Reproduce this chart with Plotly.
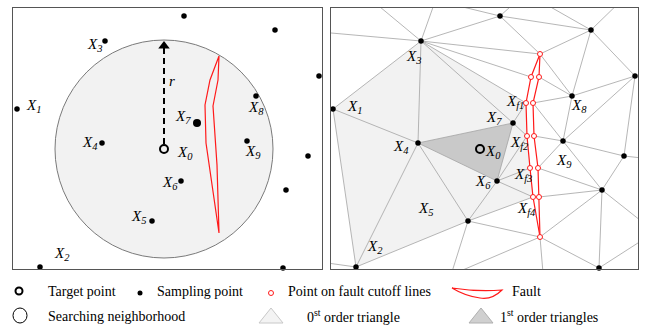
import plotly.graph_objects as go

# ---------------------------------------------------------------
# Point data (shared by both panels; units are pixels, y grows down)
# ---------------------------------------------------------------
sample_names = ["X1", "X2", "X3", "X4", "X5", "X6", "X7", "X8", "X9",
                "A", "B", "C", "D", "E", "F"]
sample_x = [17, 40, 105, 102, 152, 181, 197, 256, 247, 184, 275, 319, 308, 286, 283]
sample_y = [109, 267, 41, 143, 221, 181, 123, 96, 141, 16, 30, 76, 156, 190, 268]

target_x = [164]
target_y = [149]
search_radius = 109

# fault outline used in the neighbourhood panel
fault_poly_x = [219, 210, 205, 206, 219, 217, 213, 218, 219]
fault_poly_y = [56, 80, 105, 143, 233, 165, 106, 80, 56]

# points where the fault cuts the triangulation (left and right traces)
cut_names_left = ["L1", "L2", "L3", "L4", "L5"]
cut_left_x = [215, 210, 211, 214, 217]
cut_left_y = [77, 103, 136, 168, 197]
cut_names_right = ["R1", "R2", "R3", "R4", "R5"]
cut_right_x = [223, 217, 218, 222, 223]
cut_right_y = [77, 103, 136, 168, 197]
cut_end_names = ["FT", "FB"]
cut_end_x = [224, 224]
cut_end_y = [54, 237]

# neighbours that lie outside the frame
ghost_names = ["g1", "g2", "g3", "g4", "g5", "g6", "g7", "g8", "g9", "g10", "g11", "g12"]
ghost_x = [52, 121, 4, 114, 204, 224, 309, 344, 339, 135, 228, 4]
ghost_y = [-3, -4, 32, -1, -2, 1, -3, 160, 232, 275, 285, 262]

# triangulation edges
edges = [
    ("X3", "g1"), ("X3", "g2"), ("X3", "g3"), ("X3", "A"), ("X3", "FT"),
    ("X3", "L1"), ("X3", "L2"), ("X3", "X7"), ("X3", "X4"), ("X3", "X1"),
    ("A", "g4"), ("A", "g5"), ("A", "B"), ("A", "FT"),
    ("B", "g6"), ("B", "g7"), ("B", "FT"), ("B", "X8"), ("B", "C"),
    ("X1", "X4"), ("X1", "X2"),
    ("X4", "X7"), ("X4", "X6"), ("X4", "X5"), ("X4", "X2"),
    ("X7", "X6"), ("X7", "L2"), ("X7", "L3"),
    ("X6", "L3"), ("X6", "L4"), ("X6", "L5"), ("X6", "X5"),
    ("X5", "L5"), ("X5", "FB"), ("X5", "X2"), ("X5", "g10"),
    ("X2", "g12"),
    ("FB", "g10"), ("FB", "g11"), ("FB", "F"), ("FB", "E"),
    ("FT", "X8"), ("R1", "X8"), ("R2", "X8"), ("R2", "X9"), ("R3", "X9"),
    ("R4", "X9"), ("R4", "E"), ("R5", "E"),
    ("X8", "X9"), ("X8", "C"), ("X9", "C"), ("X9", "D"), ("X9", "E"),
    ("C", "D"), ("D", "E"), ("D", "g8"), ("E", "F"), ("E", "g9"), ("F", "g9"),
]

# triangles around the target
zero_order_ring = ["X1", "X3", "L2", "L3", "L4", "L5", "X5", "X2"]
first_order_tri = ["X4", "X7", "X6"]

# label placement (neighbourhood panel / triangulation panel)
left_labels = {"X1": (33, 106), "X2": (62, 254), "X3": (94, 45), "X4": (90, 143),
               "X5": (138, 217), "X6": (170, 183), "X7": (183, 117), "X8": (256, 108),
               "X9": (253, 152), "X0": (185, 153)}
right_labels = {"X1": (38, 107), "X2": (59, 247), "X3": (97, 57), "X4": (85, 147),
                "X5": (109, 209), "X6": (167, 182), "X7": (178, 118), "X8": (263, 106),
                "X9": (248, 161), "X0": (177, 152), "Xf1": (199, 102), "Xf2": (203, 143),
                "Xf3": (207, 175), "Xf4": (210, 209)}

legend_row1 = ["Target point", "Sampling point", "Point on fault cutoff lines", "Fault"]
legend_row2 = ["Searching neighborhood", "0<sup>st</sup> order triangle",
               "1<sup>st</sup> order triangles"]

# ---------------------------------------------------------------
pos = {}
for n, x, y in zip(sample_names, sample_x, sample_y):
    pos[n] = (x, y)
for n, x, y in zip(cut_names_left, cut_left_x, cut_left_y):
    pos[n] = (x, y)
for n, x, y in zip(cut_names_right, cut_right_x, cut_right_y):
    pos[n] = (x, y)
for n, x, y in zip(cut_end_names, cut_end_x, cut_end_y):
    pos[n] = (x, y)
for n, x, y in zip(ghost_names, ghost_x, ghost_y):
    pos[n] = (x, y)

SERIF = "Liberation Serif"
EDGE = "#a3a3a3"
RED = "#ff1a1a"


def dots(xs, ys, size, xa, ya):
    return go.Scatter(x=xs, y=ys, mode="markers", cliponaxis=False,
                      marker=dict(symbol="circle", color="#000000", size=size, opacity=1,
                                  line=dict(width=0)),
                      xaxis=xa, yaxis=ya, hoverinfo="skip")


fig = go.Figure()

# ---------------- left panel: searching neighbourhood ----------------
fig.add_shape(type="circle", xref="x", yref="y", layer="below",
              x0=target_x[0] - search_radius, x1=target_x[0] + search_radius,
              y0=target_y[0] - search_radius, y1=target_y[0] + search_radius,
              fillcolor="#f2f2f2", line=dict(color="#7a7a7a", width=1))

fig.add_trace(go.Scatter(x=fault_poly_x, y=fault_poly_y, mode="lines",
                         line=dict(color=RED, width=1.2), xaxis="x", yaxis="y",
                         hoverinfo="skip"))

# radius arrow
fig.add_trace(go.Scatter(x=[target_x[0], target_x[0]],
                         y=[target_y[0] - 5, target_y[0] - search_radius + 8],
                         mode="lines", line=dict(color="black", width=2, dash="6px,4px"),
                         xaxis="x", yaxis="y", hoverinfo="skip"))
fig.add_trace(go.Scatter(x=[target_x[0]], y=[target_y[0] - search_radius + 6],
                         mode="markers", marker=dict(symbol="triangle-up", size=10, color="black"),
                         xaxis="x", yaxis="y", hoverinfo="skip"))

small = [i for i, n in enumerate(sample_names) if n != "X7"]
big = [i for i, n in enumerate(sample_names) if n == "X7"]
fig.add_trace(dots([sample_x[i] for i in small], [sample_y[i] for i in small], 5.5, "x", "y"))
fig.add_trace(dots([sample_x[i] for i in big], [sample_y[i] for i in big], 8, "x", "y"))
fig.add_trace(go.Scatter(x=target_x, y=target_y, mode="markers",
                         marker=dict(symbol="circle-open", color="black", size=8,
                                     line=dict(width=2)),
                         xaxis="x", yaxis="y", hoverinfo="skip"))

# ---------------- right panel: triangulation ----------------
ring = zero_order_ring + [zero_order_ring[0]]
fig.add_trace(go.Scatter(x=[pos[n][0] for n in ring], y=[pos[n][1] for n in ring],
                         mode="lines", fill="toself", fillcolor="#f2f2f2",
                         line=dict(width=0, color="#f2f2f2"),
                         xaxis="x2", yaxis="y2", hoverinfo="skip"))
tri = first_order_tri + [first_order_tri[0]]
fig.add_trace(go.Scatter(x=[pos[n][0] for n in tri], y=[pos[n][1] for n in tri],
                         mode="lines", fill="toself", fillcolor="#c9c9c9",
                         line=dict(width=0, color="#c9c9c9"),
                         xaxis="x2", yaxis="y2", hoverinfo="skip"))

ex, ey = [], []
for a, b in edges:
    ex += [pos[a][0], pos[b][0], None]
    ey += [pos[a][1], pos[b][1], None]
fig.add_trace(go.Scatter(x=ex, y=ey, mode="lines", line=dict(color=EDGE, width=0.8),
                         xaxis="x2", yaxis="y2", hoverinfo="skip"))

fl_x = [cut_end_x[0]] + cut_left_x + [cut_end_x[1]]
fl_y = [cut_end_y[0]] + cut_left_y + [cut_end_y[1]]
fr_x = [cut_end_x[0]] + cut_right_x + [cut_end_x[1]]
fr_y = [cut_end_y[0]] + cut_right_y + [cut_end_y[1]]
for fx, fy in ((fl_x, fl_y), (fr_x, fr_y)):
    fig.add_trace(go.Scatter(x=fx, y=fy, mode="lines", line=dict(color=RED, width=1.2),
                             xaxis="x2", yaxis="y2", hoverinfo="skip"))
fig.add_trace(go.Scatter(x=cut_left_x + cut_right_x + cut_end_x,
                         y=cut_left_y + cut_right_y + cut_end_y, mode="markers",
                         marker=dict(symbol="circle", size=5, color="white",
                                     line=dict(color=RED, width=1)),
                         xaxis="x2", yaxis="y2", hoverinfo="skip"))

fig.add_trace(dots(sample_x, sample_y, 5.5, "x2", "y2"))
fig.add_trace(go.Scatter(x=target_x, y=target_y, mode="markers",
                         marker=dict(symbol="circle-open", color="black", size=8,
                                     line=dict(width=2)),
                         xaxis="x2", yaxis="y2", hoverinfo="skip"))


def point_label(name):
    if name.startswith("Xf"):
        return "<i>X<sub>f" + name[2:] + "</sub></i>"
    return "<i>X<sub>" + name[1:] + "</sub></i>"


annotations = []
for n, (x, y) in left_labels.items():
    annotations.append(dict(x=x, y=y, xref="x", yref="y", text=point_label(n),
                            showarrow=False, font=dict(family=SERIF, size=15, color="black")))
for n, (x, y) in right_labels.items():
    annotations.append(dict(x=x, y=y, xref="x2", yref="y2", text=point_label(n),
                            showarrow=False, font=dict(family=SERIF, size=15, color="black")))
annotations.append(dict(x=172, y=81, xref="x", yref="y", text="<i>r</i>", showarrow=False,
                        font=dict(family=SERIF, size=15, color="black")))

# ---------------- legend (figure pixel axes) ----------------
R1Y, R2Y = 291, 316
fig.add_trace(go.Scatter(x=[19], y=[R1Y], mode="markers",
                         marker=dict(symbol="circle-open", color="black", size=7, line=dict(width=2)),
                         xaxis="x3", yaxis="y3", hoverinfo="skip"))
fig.add_trace(dots([140], [R1Y + 2], 5, "x3", "y3"))
fig.add_trace(go.Scatter(x=[271], y=[R1Y + 2], mode="markers",
                         marker=dict(symbol="circle", size=5, color="white",
                                     line=dict(color=RED, width=1)),
                         xaxis="x3", yaxis="y3", hoverinfo="skip"))
fig.add_shape(type="path", xref="x3", yref="y3",
              path=f"M452,{R1Y-3} Q478,{R1Y+1} 502,{R1Y-1} Q492,{R1Y+9} 480,{R1Y+7} Q465,{R1Y+5} 452,{R1Y-3} Z",
              line=dict(color=RED, width=1.2))
# searching neighbourhood icon
fig.add_shape(type="circle", xref="x3", yref="y3", x0=13, x1=27, y0=R2Y - 8, y1=R2Y + 7,
              line=dict(color="black", width=1), fillcolor="white")
fig.add_trace(go.Scatter(x=[20, 20], y=[R2Y + 4, R2Y - 2], mode="lines",
                         line=dict(color="black", width=1.5),
                         xaxis="x3", yaxis="y3", hoverinfo="skip"))
fig.add_trace(go.Scatter(x=[20], y=[R2Y - 3], mode="markers",
                         marker=dict(symbol="triangle-up", size=7, color="black"),
                         xaxis="x3", yaxis="y3", hoverinfo="skip"))
fig.add_shape(type="path", xref="x3", yref="y3",
              path=f"M259,{R2Y+7} L271,{R2Y-8} L283,{R2Y+7} Z",
              line=dict(color="#c8c8c8", width=1), fillcolor="#f3f3f3")
fig.add_shape(type="path", xref="x3", yref="y3",
              path=f"M469,{R2Y+7} L481,{R2Y-8} L493,{R2Y+7} Z",
              line=dict(color="#b0b0b0", width=1), fillcolor="#d0d0d0")

leg_font = dict(family=SERIF, size=14, color="black")
for txt, x in zip(legend_row1, [46, 155, 286, 510]):
    annotations.append(dict(x=x, y=R1Y, xref="x3", yref="y3", text=txt, showarrow=False,
                            xanchor="left", font=leg_font))
for txt, x in zip(legend_row2, [46, 305, 498]):
    annotations.append(dict(x=x, y=R2Y, xref="x3", yref="y3", text=txt, showarrow=False,
                            xanchor="left", font=leg_font))

W, H = 645, 330
TOP, BOT = 8, 269
ydom = [(H - BOT) / H, (H - TOP) / H]
frame = dict(showgrid=False, zeroline=False, showticklabels=False, ticks="",
             showline=True, mirror=True, linecolor="#555555", linewidth=1, fixedrange=True)
hidden = dict(showgrid=False, zeroline=False, showticklabels=False, ticks="",
              showline=False, fixedrange=True)

fig.update_layout(
    width=W, height=H, margin=dict(l=0, r=0, t=0, b=0),
    paper_bgcolor="white", plot_bgcolor="rgba(0,0,0,0)", showlegend=False,
    xaxis=dict(domain=[13 / W, 322 / W], range=[13, 322], **frame),
    yaxis=dict(domain=ydom, range=[BOT, TOP], **frame),
    xaxis2=dict(domain=[331 / W, 638 / W], range=[15, 322], anchor="y2", **frame),
    yaxis2=dict(domain=ydom, range=[BOT, TOP], anchor="x2", **frame),
    xaxis3=dict(domain=[0, 1], range=[0, W], anchor="y3", **hidden),
    yaxis3=dict(domain=[0, 1], range=[H, 0], anchor="x3", **hidden),
    annotations=annotations,
)

fig.write_html("out.html")
